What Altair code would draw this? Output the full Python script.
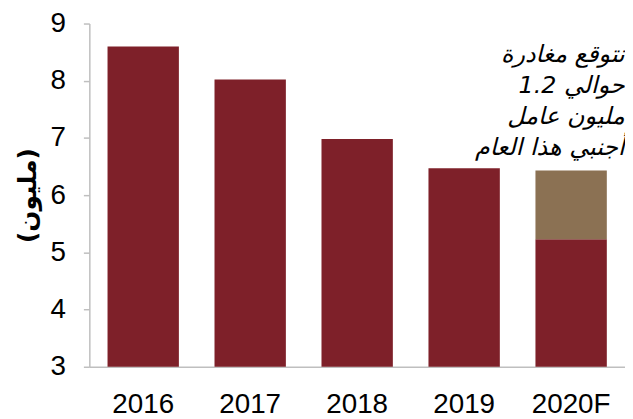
import altair as alt
import pandas as pd

years = ["2016", "2017", "2018", "2019", "2020F", "2020F"]
segments = ["base", "base", "base", "base", "base", "leaving"]
values = [8.6, 8.02, 6.98, 6.47, 5.23, 1.2]
colors_domain = ["base", "leaving"]
colors_range = ["#7E2029", "#8B7153"]
y_title = "(مليون)"
note_lines = ["نتوقع مغادرة", "\u202bحوالي 1.2\u202c", "مليون عامل", "أجنبي هذا العام"]
note_year = ["2020F"]
note_y = [8.65]

df = pd.DataFrame({"year": years, "segment": segments, "value": values,
                   "order": [0, 0, 0, 0, 0, 1]})

bars = alt.Chart(df).mark_bar().encode(
    x=alt.X("year:N", sort=None,
            scale=alt.Scale(paddingInner=0.333, paddingOuter=0.17),
            axis=alt.Axis(title=None, labelAngle=0, labelFontSize=28, labelFont="Liberation Sans",
                          labelColor="#000000", labelPadding=24, ticks=False,
                          domainColor="#BFBFBF", domainWidth=1.5)),
    y=alt.Y("sum(value):Q", stack="zero",
            scale=alt.Scale(domain=[3, 9], zero=False, clamp=True, nice=False),
            axis=alt.Axis(title=y_title, titleFontSize=25, titleFont="DejaVu Sans",
                          titleFontWeight="bold", titleColor="#000000", titlePadding=10,
                          values=[3, 4, 5, 6, 7, 8, 9], format="d", grid=False,
                          labelFontSize=28, labelFont="Liberation Sans", labelColor="#000000",
                          labelPadding=18, tickSize=6, tickColor="#BFBFBF", tickWidth=1.5,
                          domainColor="#BFBFBF", domainWidth=1.5)),
    color=alt.Color("segment:N", scale=alt.Scale(domain=colors_domain, range=colors_range),
                    legend=None),
    order=alt.Order("order:Q"),
)

note_df = pd.DataFrame({"year": note_year, "y": note_y, "text": [note_lines]})
note = alt.Chart(note_df).mark_text(
    align="right", baseline="top", fontSize=24, fontStyle="italic",
    font="DejaVu Sans", color="#000000", lineHeight=31, dx=54,
).encode(
    x=alt.X("year:N", sort=None),
    y=alt.Y("y:Q"),
    text="text",
)

chart = alt.layer(bars, note).properties(
    width=540, height=346,
    autosize=alt.AutoSizeParams(type="none"),
    padding={"left": 82, "top": 14, "right": 0, "bottom": 50},
).configure_view(stroke=None)

chart.save("out.html", embed_options={"renderer": "svg", "actions": False})
